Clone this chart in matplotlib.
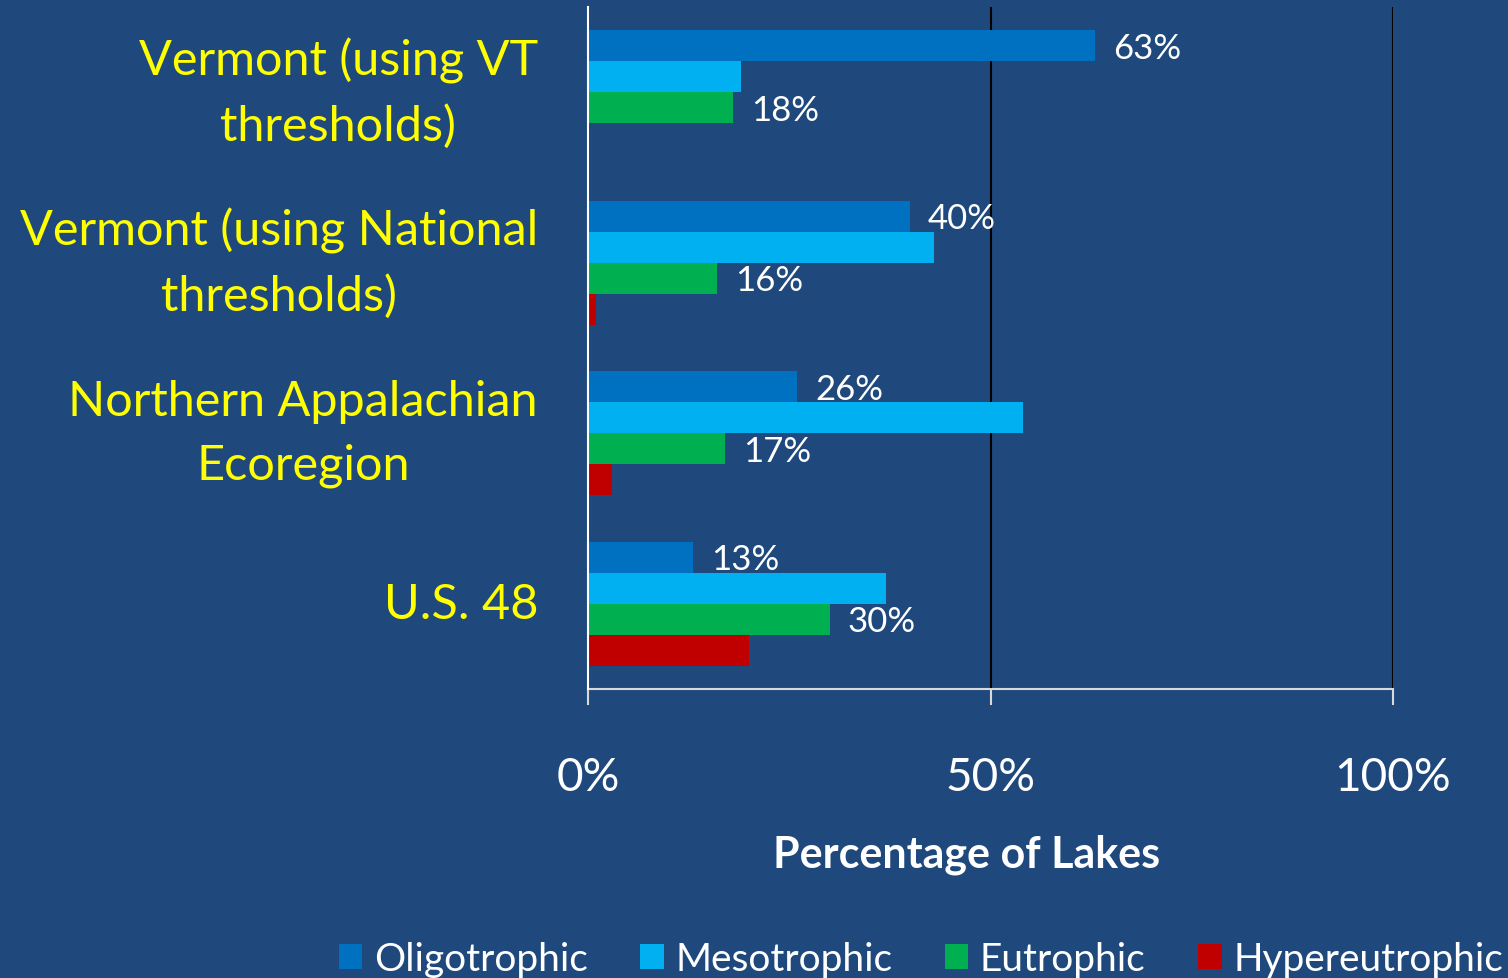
import numpy as np
import matplotlib.pyplot as plt

plt.rcParams['font.family'] = ['Lato', 'DejaVu Sans']

regions = ["Vermont (using VT\nthresholds)",
           "Vermont (using National\nthresholds)",
           "Northern Appalachian\nEcoregion",
           "U.S. 48"]
classes = ["Oligotrophic", "Mesotrophic", "Eutrophic", "Hypereutrophic"]
oligo = [63, 40, 26, 13]
meso = [19, 43, 54, 37]
eutro = [18, 16, 17, 30]
hyper = [0, 1, 3, 20]
labelled = [True, False, True, False]   # only these series get value labels
colors = ["#0070C0", "#00B0F0", "#00B050", "#C00000"]

bg = "#1F497D"
W, H = 1508, 979
fig = plt.figure(figsize=(W / 100, H / 100), dpi=100, facecolor=bg)
ax = fig.add_axes([588 / W, 1 - 690 / H, (1393 - 588) / W, (690 - 8) / H])
ax.set_facecolor(bg)

series = [oligo, meso, eutro, hyper]
h = 31 / 171
y = np.arange(len(regions))
for j, (vals, col) in enumerate(zip(series, colors)):
    pos = y - 2 * h + (j + 0.5) * h
    bars = ax.barh(pos, vals, height=h, color=col, label=classes[j], zorder=3)
    if labelled[j]:
        for b, v in zip(bars, vals):
            ax.annotate(f"{v}%", (v, b.get_y() + h / 2), xytext=(18, -2),
                        textcoords="offset pixels", va="center", ha="left",
                        color="white", fontsize=25, zorder=4)

ax.set_xlim(0, 100)
ax.set_ylim(3.5, -0.5)
ax.set_xticks([0, 50, 100])
ax.set_xticklabels(["0%", "50%", "100%"])
ax.set_yticks(y)
ax.set_yticklabels(regions, multialignment="center", linespacing=1.55, va="center")
ax.tick_params(axis="y", length=0, pad=36, labelsize=35, labelcolor="#FFFF00")
ax.tick_params(axis="x", length=11.5, width=1.5, color="#D9D9D9", pad=37,
               labelsize=33, labelcolor="white")
ax.xaxis.grid(True, color="black", lw=1.5, zorder=1)
for s in ["top", "right"]:
    ax.spines[s].set_visible(False)
ax.spines["left"].set_color("white")
ax.spines["left"].set_linewidth(1.5)
ax.spines["bottom"].set_color("#D9D9D9")
ax.spines["bottom"].set_linewidth(1.5)
ax.spines["left"].set_zorder(5)

fig.text(967 / W, 1 - 855 / H, "Percentage of Lakes", ha="center", va="center",
         color="white", fontsize=31, fontweight="bold")

leg = fig.legend(loc="center", bbox_to_anchor=(921 / W, 1 - 960 / H), ncol=4,
                 frameon=False, fontsize=28, labelcolor="white",
                 handlelength=0.6, handleheight=0.6, handletextpad=0.3,
                 columnspacing=1.35)

fig.savefig("out.png", dpi=100, facecolor=bg)
